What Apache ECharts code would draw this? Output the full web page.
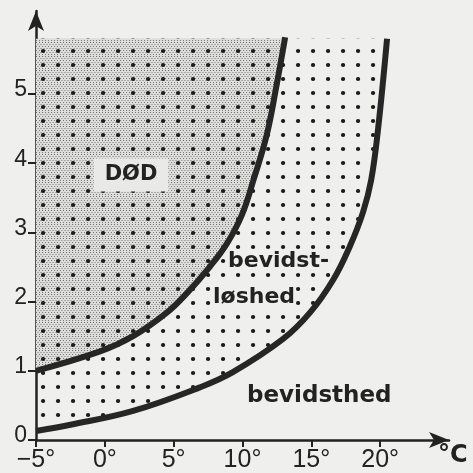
<!DOCTYPE html>
<html>
<head>
<meta charset="utf-8">
<script src="https://cdn.jsdelivr.net/npm/echarts@6/dist/echarts.min.js"></script>
<style>
  html, body { margin: 0; padding: 0; background: #efefed; }
  #chart { width: 473px; height: 473px; }
</style>
</head>
<body>
<div id="chart"></div>
<script>
// temperature (°C) vs hours in water
const xTicks = [-5, 0, 5, 10, 15, 20];
const yTicks = [0, 1, 2, 3, 4, 5];
const topHours = 5.8;

// boundary death / unconsciousness
const innerTemp = [-5, -0.35, 2.05, 4.5, 6.0, 7.65, 8.9, 9.95, 10.8, 11.75, 12.45, 13.1];
const innerHours = [1.0, 1.28, 1.5, 1.84, 2.13, 2.51, 2.85, 3.25, 3.76, 4.4, 5.1, 5.82];

// boundary unconsciousness / consciousness
const outerTemp = [-5, -2.5, 2.05, 6.9, 9.3, 12.95, 14.9, 16.6, 17.8, 18.75, 19.35, 19.85, 20.5];
const outerHours = [0.13, 0.22, 0.42, 0.76, 0.98, 1.46, 1.84, 2.32, 2.8, 3.29, 3.76, 4.5, 5.8];

function dotTile(stipple) {
    const c = document.createElement('canvas');
    c.width = 15;
    c.height = 14;
    const g = c.getContext('2d');
    if (stipple) {
        g.fillStyle = '#dededc';
        g.fillRect(0, 0, 15, 14);
        g.fillStyle = '#666';
        for (let y = 0; y < 14; y += 2) {
            for (let x = (y / 2) % 2 ? 1.5 : 0; x < 15; x += 3) {
                g.beginPath();
                g.arc(x + 0.5, y + 0.5, 0.55, 0, Math.PI * 2);
                g.fill();
            }
        }
    }
    g.fillStyle = '#1c1c1c';
    for (const dx of [-15, 0]) {
        for (const dy of [-14, 0, 14]) {
            g.beginPath();
            g.arc(13 + dx, 9 + dy, 2.1, 0, Math.PI * 2);
            g.fill();
        }
    }
    return c;
}

function regionItem(temps, hours, fill) {
    return (params, api) => {
        const pts = temps.map((t, i) => api.coord([t, hours[i]]));
        pts.push(api.coord([temps[temps.length - 1], topHours]));
        pts.push(api.coord([xTicks[0], topHours]));
        return { type: 'polygon', shape: { points: pts }, style: { fill: fill } };
    };
}

const chart = echarts.init(document.getElementById('chart'));
const ink = '#222';
const labelFont = 'Liberation Sans';

const option = {
    backgroundColor: '#efefed',
    animation: false,
    grid: { left: 36, top: 11, width: 413, height: 430 },
    xAxis: {
        type: 'value',
        min: -5,
        max: 25,
        interval: 5,
        name: '°C',
        nameLocation: 'end',
        nameGap: -11,
        nameTextStyle: {
            color: ink, fontFamily: 'DejaVu Sans', fontWeight: 'bold', fontSize: 24,
            align: 'left', verticalAlign: 'top', padding: [4, 0, 0, 0],
        },
        axisLine: {
            onZero: false,
            lineStyle: { color: ink, width: 2.5 },
            symbol: ['none', 'arrow'],
            symbolSize: [12, 20],
        },
        axisTick: { customValues: xTicks, length: 7, lineStyle: { color: ink, width: 2 } },
        axisLabel: {
            customValues: xTicks,
            margin: 8,
            color: ink,
            fontFamily: labelFont,
            fontSize: 25,
            formatter: v => (v < 0 ? '−' : '') + Math.abs(v) + '°',
        },
        splitLine: { show: false },
    },
    yAxis: {
        type: 'value',
        min: 0,
        max: 6.2,
        interval: 1,
        axisLine: {
            show: true,
            onZero: false,
            lineStyle: { color: ink, width: 2.5 },
            symbol: ['none', 'arrow'],
            symbolSize: [12, 20],
        },
        axisTick: { show: true, customValues: yTicks, length: 8, lineStyle: { color: ink, width: 2 } },
        axisLabel: {
            customValues: yTicks,
            margin: 9,
            color: ink,
            fontFamily: labelFont,
            fontSize: 23,
            verticalAlign: 'bottom',
            lineHeight: 8,
        },
        splitLine: { show: false },
    },
    graphic: [
        {
            type: 'text', z: 10,
            style: {
                text: 'DØD', x: 131, y: 175, align: 'center', verticalAlign: 'middle',
                font: 'bold 21px "DejaVu Sans"', fill: '#222',
                backgroundColor: '#e9e9e7', padding: [6, 11],
            },
        },
        {
            type: 'text', z: 10,
            style: {
                text: 'bevidst-', x: 227, y: 261, align: 'left', verticalAlign: 'middle',
                font: 'bold 22px "DejaVu Sans"', fill: '#222',
                backgroundColor: '#efefed', padding: [0, 1],
            },
        },
        {
            type: 'text', z: 10,
            style: {
                text: 'løshed', x: 212, y: 297, align: 'left', verticalAlign: 'middle',
                font: 'bold 22px "DejaVu Sans"', fill: '#222',
                backgroundColor: '#efefed', padding: [0, 1],
            },
        },
        {
            type: 'text', z: 10,
            style: {
                text: 'bevidsthed', x: 247, y: 396, align: 'left', verticalAlign: 'middle',
                font: 'bold 23px "DejaVu Sans"', fill: '#222',
            },
        },
    ],
    series: [
        {
            type: 'custom',
            silent: true,
            z: 1,
            data: [[0, 0]],
            renderItem: regionItem(outerTemp, outerHours, { image: dotTile(false), repeat: 'repeat' }),
        },
        {
            type: 'custom',
            silent: true,
            z: 1,
            data: [[0, 0]],
            renderItem: regionItem(innerTemp, innerHours, { image: dotTile(true), repeat: 'repeat' }),
        },
        {
            type: 'line',
            z: 3,
            smooth: 0.4,
            symbol: 'none',
            lineStyle: { color: '#262626', width: 6 },
            data: innerTemp.map((t, i) => [t, innerHours[i]]),
        },
        {
            type: 'line',
            z: 3,
            smooth: 0.4,
            symbol: 'none',
            lineStyle: { color: '#262626', width: 6 },
            data: outerTemp.map((t, i) => [t, outerHours[i]]),
        },
    ],
};

chart.setOption(option);
window.addEventListener('resize', () => chart.resize());
</script>
</body>
</html>
